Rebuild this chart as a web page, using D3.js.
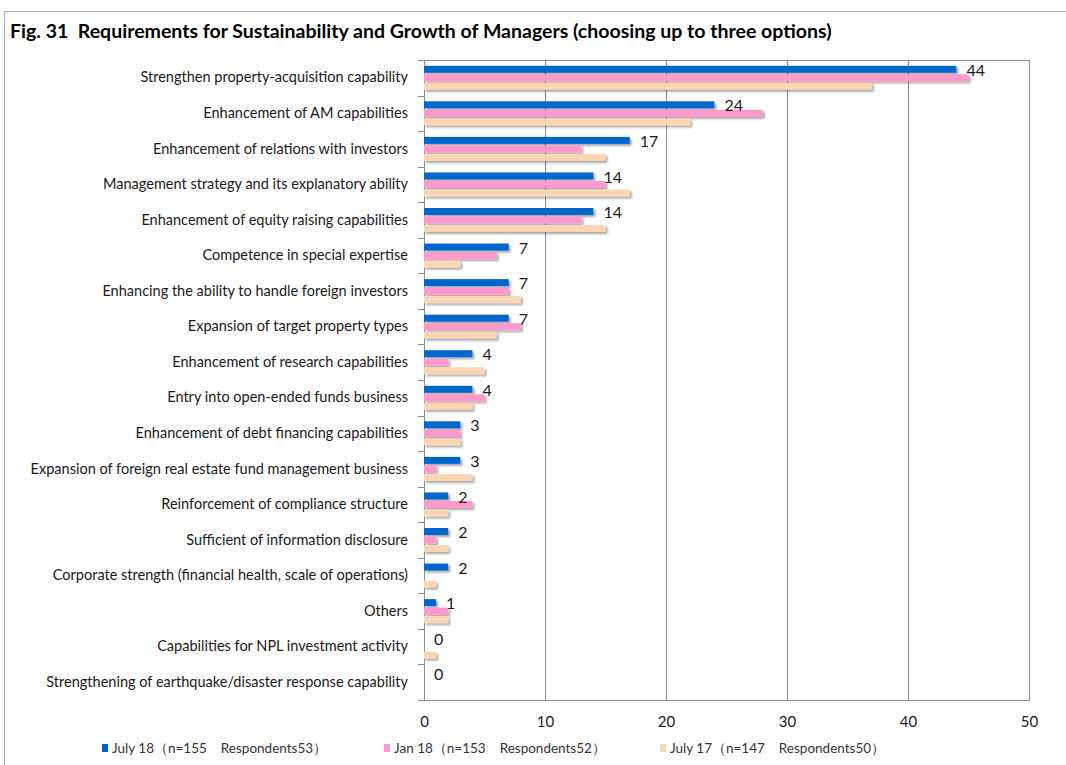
<!DOCTYPE html>
<html>
<head>
<meta charset="utf-8">
<script src="https://cdnjs.cloudflare.com/ajax/libs/d3/7.8.5/d3.min.js"></script>
<style>
  body { margin: 0; background: #fff; }
  text { font-family: Lato, "Open Sans", sans-serif; fill: #1a1a1a; }
</style>
</head>
<body>
<svg width="1066" height="765"></svg>
<script>

// data
var categories = [
  "Strengthen property-acquisition capability",
  "Enhancement of AM capabilities",
  "Enhancement of relations with investors",
  "Management strategy and its explanatory ability",
  "Enhancement of equity raising capabilities",
  "Competence in special expertise",
  "Enhancing the ability to handle foreign investors",
  "Expansion of target property types",
  "Enhancement of research capabilities",
  "Entry into open-ended funds business",
  "Enhancement of debt financing capabilities",
  "Expansion of foreign real estate fund management business",
  "Reinforcement of compliance structure",
  "Sufficient of information disclosure",
  "Corporate strength (financial health, scale of operations)",
  "Others",
  "Capabilities for NPL investment activity",
  "Strengthening of earthquake/disaster response capability"
];
var july18 = [44, 24, 17, 14, 14, 7, 7, 7, 4, 4, 3, 3, 2, 2, 2, 1, 0, 0];
var jan18  = [45, 28, 13, 15, 13, 6, 7, 8, 2, 5, 3, 1, 4, 1, 0, 2, 0, 0];
var july17 = [37, 22, 15, 17, 15, 3, 8, 6, 5, 4, 3, 4, 2, 2, 1, 2, 1, 0];
var seriesNames = [
  "July 18（n=155　Respondents53）",
  "Jan 18（n=153　Respondents52）",
  "July 17（n=147　Respondents50）"
];
var colors = ["#0066cc", "#ff99cc", "#fcd5b5"];
var xTicks = [0, 10, 20, 30, 40, 50];
var title = "Fig. 31  Requirements for Sustainability and Growth of Managers (choosing up to three options)";

var series = [july18, jan18, july17];

var svg = d3.select("svg"),
    margin = {top: 60, left: 424},
    width = 605,
    height = 640;

// shadow like the office chart
var defs = svg.append("defs");
var f = defs.append("filter").attr("id", "shadow")
  .attr("x", "-10%").attr("y", "-50%").attr("width", "130%").attr("height", "250%");
f.append("feDropShadow")
  .attr("dx", 2).attr("dy", 2).attr("stdDeviation", 1)
  .attr("flood-color", "#000").attr("flood-opacity", 0.35);

// outer frame
svg.append("rect")
  .attr("x", 4.5).attr("y", 11.5)
  .attr("width", 1100).attr("height", 800)
  .attr("fill", "none").attr("stroke", "#b0b0b0");

function fit(sel, target) {
  var w = sel.node().getComputedTextLength();
  var fs = parseFloat(sel.style("font-size"));
  return fs * target / w;
}

var t = svg.append("text")
  .attr("x", 10).attr("y", 38)
  .style("font-size", "18px")
  .style("font-weight", "bold")
  .style("fill", "#000")
  .style("white-space", "pre")
  .text(title);
t.style("font-size", fit(t, 822) + "px");

var g = svg.append("g").attr("transform", "translate(" + margin.left + "," + margin.top + ")");

var x = d3.scaleLinear().domain([0, 50]).range([0, width]);
var y = d3.scaleBand().domain(categories).range([0, height]);
var ySub = d3.scaleBand().domain([0, 1, 2])
  .range([y.bandwidth() / 2 - 12, y.bandwidth() / 2 + 12])
  .paddingInner(0.18);

// gridlines
g.selectAll(".grid")
  .data(xTicks)
  .enter().append("line")
  .attr("x1", function (d) { return Math.round(x(d)) + 0.5; })
  .attr("x2", function (d) { return Math.round(x(d)) + 0.5; })
  .attr("y1", 0).attr("y2", height)
  .attr("stroke", "#8c8c8c");

g.append("rect")
  .attr("x", 0.5).attr("y", 0.5)
  .attr("width", width).attr("height", height)
  .attr("fill", "none").attr("stroke", "#8c8c8c");

// category boundary ticks
g.selectAll(".ctick")
  .data(categories.concat(["end"]))
  .enter().append("line")
  .attr("x1", -6).attr("x2", 0)
  .attr("y1", function (d, i) { return Math.round(i * y.step()) + 0.5; })
  .attr("y2", function (d, i) { return Math.round(i * y.step()) + 0.5; })
  .attr("stroke", "#8c8c8c");

// bars
series.forEach(function (vals, s) {
  g.selectAll(".bar" + s)
    .data(categories)
    .enter().append("rect")
    .attr("class", "bar" + s)
    .attr("x", 0)
    .attr("y", function (d) { return y(d) + ySub(s); })
    .attr("width", function (d, i) { return x(vals[i]); })
    .attr("height", ySub.bandwidth())
    .attr("fill", colors[s])
    .attr("filter", "url(#shadow)");
});

// value labels for the first series
g.selectAll(".val")
  .data(categories)
  .enter().append("text")
  .attr("x", function (d, i) { return x(july18[i]) + 10; })
  .attr("y", function (d) { return y(d) + ySub(0) + ySub.bandwidth() / 2 + 1; })
  .attr("dy", "0.35em")
  .style("font-size", "16px")
  .text(function (d, i) { return july18[i]; });

// left axis labels
var yAxis = g.append("g")
  .call(d3.axisLeft(y).tickSize(0).tickPadding(16));
yAxis.select(".domain").remove();
var cl = yAxis.selectAll("text")
  .attr("fill", null)
  .style("font-family", null)
  .style("font-size", "13px");
var longest = yAxis.selectAll("text").filter(function (d) { return d === categories[11]; });
var cfs = fit(longest, 378);
cl.style("font-size", cfs + "px");

// bottom axis labels
var xAxis = g.append("g")
  .attr("transform", "translate(0," + height + ")")
  .call(d3.axisBottom(x).tickValues(xTicks).tickSize(0).tickPadding(16));
xAxis.select(".domain").remove();
xAxis.selectAll("text")
  .attr("fill", null)
  .style("font-family", null)
  .style("font-size", "15px");

// legend
var legendX = [102, 384, 660];
var lg = svg.selectAll(".legend")
  .data(seriesNames)
  .enter().append("g")
  .attr("transform", function (d, i) { return "translate(" + legendX[i] + ",748)"; });
lg.append("rect")
  .attr("x", 0).attr("y", -4)
  .attr("width", 6).attr("height", 8)
  .attr("fill", function (d, i) { return colors[i]; });
lg.append("text")
  .attr("x", 10)
  .attr("dy", "0.35em")
  .style("font-size", "13.5px")
  .style("fill", "#333")
  .text(function (d) { return d; });

</script>
</body>
</html>
